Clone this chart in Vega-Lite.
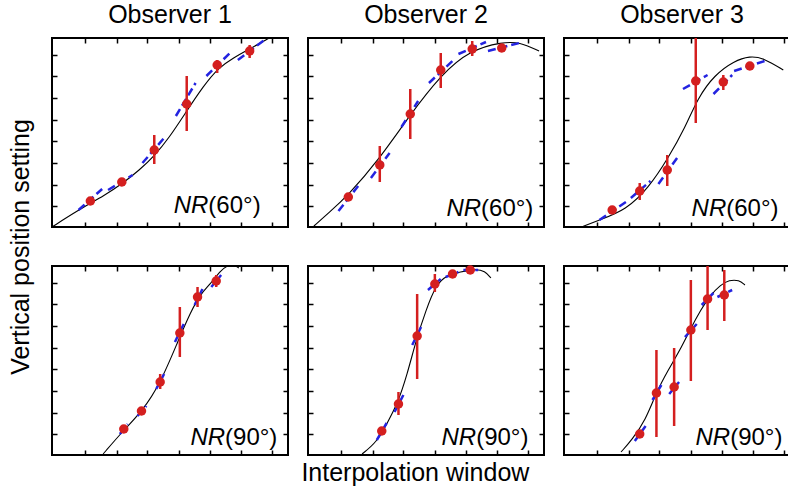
{
 "$schema": "https://vega.github.io/schema/vega-lite/v6.json",
 "padding": {"left": 8, "top": 3, "right": 0, "bottom": 2},
 "background": "white",
 "title": {"text": "Interpolation window", "orient": "bottom", "anchor": "middle", "dx": 10, "fontSize": 25, "fontWeight": "normal", "font": "Liberation Sans", "color": "black", "offset": 4},
 "data": {"values": [
   {"o":"Observer 1","c":"60","t":"c","x":0,"y":0},{"o":"Observer 1","c":"60","t":"c","x":27,"y":17},{"o":"Observer 1","c":"60","t":"c","x":54,"y":32},{"o":"Observer 1","c":"60","t":"c","x":71,"y":43},{"o":"Observer 1","c":"60","t":"c","x":89,"y":57},{"o":"Observer 1","c":"60","t":"c","x":104,"y":71},{"o":"Observer 1","c":"60","t":"c","x":119,"y":89},{"o":"Observer 1","c":"60","t":"c","x":137,"y":116},{"o":"Observer 1","c":"60","t":"c","x":154,"y":141},{"o":"Observer 1","c":"60","t":"c","x":169,"y":159},{"o":"Observer 1","c":"60","t":"c","x":184,"y":169},{"o":"Observer 1","c":"60","t":"c","x":201,"y":178},{"o":"Observer 1","c":"60","t":"c","x":219,"y":188},{"o":"Observer 1","c":"60","t":"c","x":230,"y":194},
   {"o":"Observer 2","c":"60","t":"c","x":6,"y":1},{"o":"Observer 2","c":"60","t":"c","x":21,"y":14},{"o":"Observer 2","c":"60","t":"c","x":41,"y":32},{"o":"Observer 2","c":"60","t":"c","x":71,"y":66},{"o":"Observer 2","c":"60","t":"c","x":103,"y":111},{"o":"Observer 2","c":"60","t":"c","x":135,"y":152},{"o":"Observer 2","c":"60","t":"c","x":165,"y":177},{"o":"Observer 2","c":"60","t":"c","x":198,"y":185},{"o":"Observer 2","c":"60","t":"c","x":215,"y":185},{"o":"Observer 2","c":"60","t":"c","x":235,"y":176},
   {"o":"Observer 3","c":"60","t":"c","x":18,"y":0},{"o":"Observer 3","c":"60","t":"c","x":36,"y":7},{"o":"Observer 3","c":"60","t":"c","x":63,"y":17},{"o":"Observer 3","c":"60","t":"c","x":86,"y":39},{"o":"Observer 3","c":"60","t":"c","x":106,"y":69},{"o":"Observer 3","c":"60","t":"c","x":123,"y":99},{"o":"Observer 3","c":"60","t":"c","x":136,"y":129},{"o":"Observer 3","c":"60","t":"c","x":153,"y":152},{"o":"Observer 3","c":"60","t":"c","x":173,"y":166},{"o":"Observer 3","c":"60","t":"c","x":189,"y":171},{"o":"Observer 3","c":"60","t":"c","x":203,"y":169},{"o":"Observer 3","c":"60","t":"c","x":223,"y":157},
   {"o":"Observer 1","c":"90","t":"c","x":52,"y":1},{"o":"Observer 1","c":"90","t":"c","x":73,"y":25},{"o":"Observer 1","c":"90","t":"c","x":91,"y":43},{"o":"Observer 1","c":"90","t":"c","x":110,"y":71},{"o":"Observer 1","c":"90","t":"c","x":129,"y":116},{"o":"Observer 1","c":"90","t":"c","x":141,"y":143},{"o":"Observer 1","c":"90","t":"c","x":151,"y":161},{"o":"Observer 1","c":"90","t":"c","x":161,"y":171},{"o":"Observer 1","c":"90","t":"c","x":172,"y":185},{"o":"Observer 1","c":"90","t":"c","x":178,"y":189},{"o":"Observer 1","c":"90","t":"c","x":184,"y":191},{"o":"Observer 1","c":"90","t":"c","x":190,"y":187},
   {"o":"Observer 2","c":"90","t":"c","x":55,"y":1},{"o":"Observer 2","c":"90","t":"c","x":70,"y":13},{"o":"Observer 2","c":"90","t":"c","x":80,"y":31},{"o":"Observer 2","c":"90","t":"c","x":91,"y":51},{"o":"Observer 2","c":"90","t":"c","x":101,"y":81},{"o":"Observer 2","c":"90","t":"c","x":110,"y":115},{"o":"Observer 2","c":"90","t":"c","x":120,"y":145},{"o":"Observer 2","c":"90","t":"c","x":130,"y":170},{"o":"Observer 2","c":"90","t":"c","x":141,"y":180},{"o":"Observer 2","c":"90","t":"c","x":155,"y":183},{"o":"Observer 2","c":"90","t":"c","x":170,"y":186},{"o":"Observer 2","c":"90","t":"c","x":180,"y":184},{"o":"Observer 2","c":"90","t":"c","x":186,"y":177},
   {"o":"Observer 3","c":"90","t":"c","x":58,"y":3},{"o":"Observer 3","c":"90","t":"c","x":69,"y":15},{"o":"Observer 3","c":"90","t":"c","x":83,"y":35},{"o":"Observer 3","c":"90","t":"c","x":94,"y":63},{"o":"Observer 3","c":"90","t":"c","x":106,"y":85},{"o":"Observer 3","c":"90","t":"c","x":118,"y":105},{"o":"Observer 3","c":"90","t":"c","x":128,"y":125},{"o":"Observer 3","c":"90","t":"c","x":139,"y":145},{"o":"Observer 3","c":"90","t":"c","x":149,"y":160},{"o":"Observer 3","c":"90","t":"c","x":159,"y":170},{"o":"Observer 3","c":"90","t":"c","x":168,"y":175},{"o":"Observer 3","c":"90","t":"c","x":178,"y":175},{"o":"Observer 3","c":"90","t":"c","x":184,"y":170},

   {"o":"Observer 1","c":"60","t":"p","x":39,"y":26,"lo":22,"hi":29},{"o":"Observer 1","c":"60","t":"p","x":71,"y":45,"lo":42,"hi":48},{"o":"Observer 1","c":"60","t":"p","x":104,"y":77,"lo":63,"hi":92},{"o":"Observer 1","c":"60","t":"p","x":137,"y":123,"lo":96,"hi":151},{"o":"Observer 1","c":"60","t":"p","x":168,"y":162,"lo":154,"hi":167},{"o":"Observer 1","c":"60","t":"p","x":201,"y":176,"lo":169,"hi":182},
   {"o":"Observer 2","c":"60","t":"p","x":41,"y":30,"lo":27,"hi":33},{"o":"Observer 2","c":"60","t":"p","x":73,"y":62,"lo":45,"hi":81},{"o":"Observer 2","c":"60","t":"p","x":104,"y":113,"lo":88,"hi":138},{"o":"Observer 2","c":"60","t":"p","x":135,"y":157,"lo":139,"hi":174},{"o":"Observer 2","c":"60","t":"p","x":167,"y":178,"lo":171,"hi":186},{"o":"Observer 2","c":"60","t":"p","x":197,"y":179,"lo":177,"hi":181},
   {"o":"Observer 3","c":"60","t":"p","x":49,"y":17,"lo":15,"hi":20},{"o":"Observer 3","c":"60","t":"p","x":77,"y":36,"lo":27,"hi":44},{"o":"Observer 3","c":"60","t":"p","x":105,"y":57,"lo":41,"hi":72},{"o":"Observer 3","c":"60","t":"p","x":134,"y":146,"lo":104,"hi":189},{"o":"Observer 3","c":"60","t":"p","x":162,"y":145,"lo":137,"hi":152},{"o":"Observer 3","c":"60","t":"p","x":189,"y":161,"lo":158,"hi":163},
   {"o":"Observer 1","c":"90","t":"p","x":73,"y":26,"lo":23,"hi":30},{"o":"Observer 1","c":"90","t":"p","x":91,"y":44,"lo":41,"hi":47},{"o":"Observer 1","c":"90","t":"p","x":110,"y":73,"lo":66,"hi":81},{"o":"Observer 1","c":"90","t":"p","x":130,"y":122,"lo":98,"hi":148},{"o":"Observer 1","c":"90","t":"p","x":148,"y":158,"lo":148,"hi":168},{"o":"Observer 1","c":"90","t":"p","x":167,"y":174,"lo":168,"hi":180},
   {"o":"Observer 2","c":"90","t":"p","x":75,"y":24,"lo":21,"hi":26},{"o":"Observer 2","c":"90","t":"p","x":92,"y":51,"lo":40,"hi":63},{"o":"Observer 2","c":"90","t":"p","x":111,"y":119,"lo":76,"hi":161},{"o":"Observer 2","c":"90","t":"p","x":129,"y":171,"lo":163,"hi":181},{"o":"Observer 2","c":"90","t":"p","x":147,"y":181,"lo":179,"hi":183},{"o":"Observer 2","c":"90","t":"p","x":165,"y":185,"lo":183,"hi":187},
   {"o":"Observer 3","c":"90","t":"p","x":77,"y":21,"lo":18,"hi":25},{"o":"Observer 3","c":"90","t":"p","x":94,"y":62,"lo":18,"hi":105},{"o":"Observer 3","c":"90","t":"p","x":112,"y":68,"lo":29,"hi":107},{"o":"Observer 3","c":"90","t":"p","x":129,"y":125,"lo":74,"hi":175},{"o":"Observer 3","c":"90","t":"p","x":146,"y":156,"lo":125,"hi":189},{"o":"Observer 3","c":"90","t":"p","x":163,"y":160,"lo":134,"hi":185},

   {"o":"Observer 1","c":"60","t":"s","x":27,"y":17,"x2":51,"y2":38},{"o":"Observer 1","c":"60","t":"s","x":57,"y":37,"x2":82,"y2":52},{"o":"Observer 1","c":"60","t":"s","x":92,"y":64,"x2":114,"y2":89},{"o":"Observer 1","c":"60","t":"s","x":126,"y":111,"x2":146,"y2":144},{"o":"Observer 1","c":"60","t":"s","x":157,"y":151,"x2":181,"y2":174},{"o":"Observer 1","c":"60","t":"s","x":189,"y":167,"x2":216,"y2":187},
   {"o":"Observer 2","c":"60","t":"s","x":31,"y":16,"x2":51,"y2":41},{"o":"Observer 2","c":"60","t":"s","x":64,"y":49,"x2":83,"y2":74},{"o":"Observer 2","c":"60","t":"s","x":95,"y":100,"x2":112,"y2":126},{"o":"Observer 2","c":"60","t":"s","x":123,"y":144,"x2":148,"y2":167},{"o":"Observer 2","c":"60","t":"s","x":153,"y":173,"x2":181,"y2":185},{"o":"Observer 2","c":"60","t":"s","x":183,"y":176,"x2":215,"y2":184},
   {"o":"Observer 3","c":"60","t":"s","x":36,"y":7,"x2":66,"y2":27},{"o":"Observer 3","c":"60","t":"s","x":68,"y":29,"x2":88,"y2":46},{"o":"Observer 3","c":"60","t":"s","x":96,"y":43,"x2":115,"y2":69},{"o":"Observer 3","c":"60","t":"s","x":121,"y":138,"x2":146,"y2":152},{"o":"Observer 3","c":"60","t":"s","x":152,"y":133,"x2":171,"y2":152},{"o":"Observer 3","c":"60","t":"s","x":173,"y":156,"x2":204,"y2":166},
   {"o":"Observer 1","c":"90","t":"s","x":69,"y":21,"x2":77,"y2":31},{"o":"Observer 1","c":"90","t":"s","x":87,"y":39,"x2":96,"y2":49},{"o":"Observer 1","c":"90","t":"s","x":106,"y":66,"x2":114,"y2":81},{"o":"Observer 1","c":"90","t":"s","x":125,"y":113,"x2":134,"y2":131},{"o":"Observer 1","c":"90","t":"s","x":145,"y":150,"x2":153,"y2":166},{"o":"Observer 1","c":"90","t":"s","x":162,"y":168,"x2":172,"y2":180},
   {"o":"Observer 2","c":"90","t":"s","x":70,"y":15,"x2":80,"y2":32},{"o":"Observer 2","c":"90","t":"s","x":88,"y":43,"x2":97,"y2":60},{"o":"Observer 2","c":"90","t":"s","x":106,"y":110,"x2":115,"y2":128},{"o":"Observer 2","c":"90","t":"s","x":122,"y":165,"x2":135,"y2":176},{"o":"Observer 2","c":"90","t":"s","x":140,"y":178,"x2":153,"y2":183},{"o":"Observer 2","c":"90","t":"s","x":158,"y":185,"x2":173,"y2":185},
   {"o":"Observer 3","c":"90","t":"s","x":72,"y":14,"x2":83,"y2":29},{"o":"Observer 3","c":"90","t":"s","x":90,"y":55,"x2":99,"y2":70},{"o":"Observer 3","c":"90","t":"s","x":107,"y":61,"x2":117,"y2":73},{"o":"Observer 3","c":"90","t":"s","x":123,"y":118,"x2":135,"y2":131},{"o":"Observer 3","c":"90","t":"s","x":140,"y":150,"x2":152,"y2":162},{"o":"Observer 3","c":"90","t":"s","x":156,"y":158,"x2":171,"y2":165},

   {"o":"Observer 1","c":"60","t":"l","x":159,"y":14,"s":"(60°)"},
   {"o":"Observer 2","c":"60","t":"l","x":176,"y":11,"s":"(60°)"},
   {"o":"Observer 3","c":"60","t":"l","x":165,"y":11,"s":"(60°)"},
   {"o":"Observer 1","c":"90","t":"l","x":176,"y":10,"s":"(90°)"},
   {"o":"Observer 2","c":"90","t":"l","x":171,"y":10,"s":"(90°)"},
   {"o":"Observer 3","c":"90","t":"l","x":169,"y":10,"s":"(90°)"}
 ]},
 "facet": {
  "column": {"field": "o", "type": "nominal", "header": {"title": null, "labelFontSize": 25, "labelFont": "Liberation Sans", "labelColor": "black", "labelPadding": 8}},
  "row": {"field": "c", "type": "nominal", "header": {"labels": false, "title": "Vertical position setting", "titleFontSize": 25, "titleFontWeight": "normal", "titleFont": "Liberation Sans", "titleColor": "black", "titlePadding": 6}}
 },
 "spacing": {"row": 35, "column": 16},
 "resolve": {"axis": {"x": "independent", "y": "independent"}},
 "spec": {
  "width": 236,
  "height": 189,
  "resolve": {"axis": {"x": "independent", "y": "independent"}},
  "layer": [
   {
    "transform": [{"filter": "datum.t == 'c'"}],
    "mark": {"type": "line", "color": "black", "strokeWidth": 1.1, "interpolate": "basis", "clip": true},
    "encoding": {
     "x": {"field": "x", "type": "quantitative", "scale": {"domain": [0, 240], "nice": false, "zero": false}, "axis": {"orient": "bottom", "values": [34,66,97,129,161,192,224]}},
     "y": {"field": "y", "type": "quantitative", "scale": {"domain": [0, 189], "nice": false, "zero": false}, "axis": {"orient": "left", "values": [21,42,64,86,107,129,151,172]}}
    }
   },
   {
    "transform": [{"filter": "datum.t == 'l'"}],
    "mark": {"type": "point", "opacity": 0},
    "encoding": {
     "x": {"field": "x", "type": "quantitative", "scale": {"domain": [0, 240], "nice": false, "zero": false}, "axis": {"orient": "top", "values": [34,66,97,129,161,192,224]}},
     "y": {"field": "y", "type": "quantitative", "scale": {"domain": [0, 189], "nice": false, "zero": false}, "axis": {"orient": "right", "values": [21,42,64,86,107,129,151,172]}}
    }
   },
   {
    "transform": [{"filter": "datum.t == 's'"}],
    "mark": {"type": "rule", "color": "#2323e0", "strokeWidth": 2.5, "strokeDash": [8, 4], "clip": true},
    "encoding": {
     "x": {"field": "x", "type": "quantitative", "scale": {"domain": [0, 240], "nice": false, "zero": false}, "axis": null},
     "y": {"field": "y", "type": "quantitative", "scale": {"domain": [0, 189], "nice": false, "zero": false}, "axis": null},
     "x2": {"field": "x2"},
     "y2": {"field": "y2"}
    }
   },
   {
    "transform": [{"filter": "datum.t == 'p'"}],
    "mark": {"type": "rule", "color": "#d41f1f", "strokeWidth": 2.5, "clip": true},
    "encoding": {
     "x": {"field": "x", "type": "quantitative", "scale": {"domain": [0, 240], "nice": false, "zero": false}, "axis": null},
     "y": {"field": "lo", "type": "quantitative", "scale": {"domain": [0, 189], "nice": false, "zero": false}, "axis": null},
     "y2": {"field": "hi"}
    }
   },
   {
    "transform": [{"filter": "datum.t == 'p'"}],
    "mark": {"type": "circle", "color": "#d41f1f", "size": 90, "opacity": 1},
    "encoding": {
     "x": {"field": "x", "type": "quantitative", "scale": {"domain": [0, 240], "nice": false, "zero": false}, "axis": null},
     "y": {"field": "y", "type": "quantitative", "scale": {"domain": [0, 189], "nice": false, "zero": false}, "axis": null}
    }
   },
   {
    "transform": [{"filter": "datum.t == 'l'"}],
    "mark": {"type": "text", "text": "NR", "align": "right", "baseline": "alphabetic", "fontStyle": "italic", "fontSize": 24, "font": "Liberation Sans", "color": "black"},
    "encoding": {
     "x": {"field": "x", "type": "quantitative", "scale": {"domain": [0, 240], "nice": false, "zero": false}, "axis": null},
     "y": {"field": "y", "type": "quantitative", "scale": {"domain": [0, 189], "nice": false, "zero": false}, "axis": null}
    }
   },
   {
    "transform": [{"filter": "datum.t == 'l'"}],
    "mark": {"type": "text", "align": "left", "baseline": "alphabetic", "fontSize": 24, "font": "Liberation Sans", "color": "black"},
    "encoding": {
     "x": {"field": "x", "type": "quantitative", "scale": {"domain": [0, 240], "nice": false, "zero": false}, "axis": null},
     "y": {"field": "y", "type": "quantitative", "scale": {"domain": [0, 189], "nice": false, "zero": false}, "axis": null},
     "text": {"field": "s", "type": "nominal"}
    }
   }
  ]
 },
 "config": {
  "view": {"stroke": "black", "strokeWidth": 2},
  "axis": {"labels": false, "title": null, "domain": false, "grid": false, "ticks": true, "tickSize": -5, "tickWidth": 1.5, "tickColor": "black"}
 }
}
